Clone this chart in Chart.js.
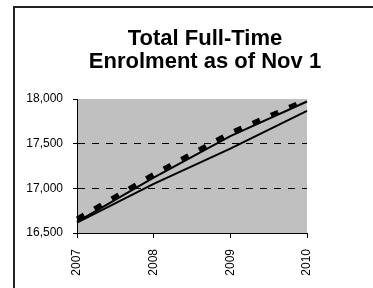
<!DOCTYPE html>
<html lang="en">
<head>
  <title>Total Full-Time Enrolment</title>
  <script src="https://cdn.jsdelivr.net/npm/chart.js"></script>
  <style>
    html, body { margin: 0; padding: 0; background: #fff; overflow: hidden; }
    .wrap { position: relative; width: 373px; height: 288px; overflow: hidden; }
    .frame { position: absolute; left: 13px; top: 6px; width: 400px; height: 300px; border-left: 2px solid #222; border-top: 2px solid #222; }
    canvas { position: absolute; left: 0; top: 0; }
  </style>
</head>
<body>
  <div class="wrap">
    <div class="frame"></div>
    <!-- the original chart runs past the right edge of the picture -->
    <canvas id="enrolChart" width="410" height="288"></canvas>
  </div>
  <script>
    // values
    const years = ['2007', '2008', '2009', '2010'];
    const dashedSeries = [16660, 17158, 17622, 17995];
    const upperSeries = [16625, 17120, 17585, 17972];
    const lowerSeries = [16615, 17050, 17445, 17866];
    const yTicks = [16500, 17000, 17500, 18000];

    const FONT = '"Liberation Sans", Arial, sans-serif';

    // grey plot background
    const plotBg = {
      id: 'plotBg',
      beforeDraw(chart) {
        const { ctx, chartArea: a } = chart;
        ctx.save();
        ctx.fillStyle = '#c0c0c0';
        ctx.fillRect(a.left, a.top, a.right - a.left, a.bottom - a.top);
        ctx.restore();
      }
    };

    const ctx = document.getElementById('enrolChart').getContext('2d');
    new Chart(ctx, {
      type: 'line',
      data: {
        labels: years,
        datasets: [
          {
            data: dashedSeries,
            borderColor: '#000',
            borderWidth: 4.5,
            borderDash: [8, 12],
            borderCapStyle: 'butt',
            pointRadius: 0,
            tension: 0,
            fill: false
          },
          {
            data: upperSeries,
            borderColor: '#000',
            borderWidth: 2,
            pointRadius: 0,
            tension: 0,
            fill: false
          },
          {
            data: lowerSeries,
            borderColor: '#000',
            borderWidth: 2,
            pointRadius: 0,
            tension: 0,
            fill: false
          }
        ]
      },
      options: {
        responsive: false,
        animation: false,
        devicePixelRatio: 1,
        layout: { padding: { left: 0, top: 6.5, right: 0, bottom: 0 } },
        plugins: {
          legend: { display: false },
          tooltip: { enabled: false },
          title: {
            display: true,
            text: ['Total Full-Time', 'Enrolment as of Nov 1'],
            color: '#000',
            font: { family: FONT, size: 22, weight: 'bold', lineHeight: 1.05 },
            padding: { top: 20.5, bottom: 25.8 }
          }
        },
        scales: {
          x: {
            type: 'category',
            offset: false,
            grid: { drawOnChartArea: false, color: '#000', tickColor: '#000', tickLength: 5 },
            border: { color: '#000', width: 1 },
            ticks: {
              color: '#000',
              font: { family: FONT, size: 12 },
              minRotation: 90,
              maxRotation: 90,
              padding: 11
            },
            afterFit: s => { s.height = 55; }
          },
          y: {
            min: 16500,
            max: 18000,
            afterBuildTicks: s => { s.ticks = yTicks.map(v => ({ value: v })); },
            grid: {
              color: c => (c.tick && c.tick.value > yTicks[0] && c.tick.value < yTicks[yTicks.length - 1]) ? '#000' : 'rgba(0,0,0,0)',
              tickColor: '#000',
              tickLength: 4,
              lineWidth: 1
            },
            border: { color: '#000', width: 1, dash: [7, 7] },
            ticks: {
              color: '#000',
              font: { family: FONT, size: 12 },
              padding: 10,
              callback: v => v.toLocaleString('en-US')
            },
            afterFit: s => { s.width = 77; }
          },
          yRight: {
            position: 'right',
            grid: { display: false },
            border: { display: false },
            ticks: { display: false },
            afterFit: s => { s.width = 103; }
          }
        }
      },
      plugins: [plotBg]
    });
  </script>
</body>
</html>
